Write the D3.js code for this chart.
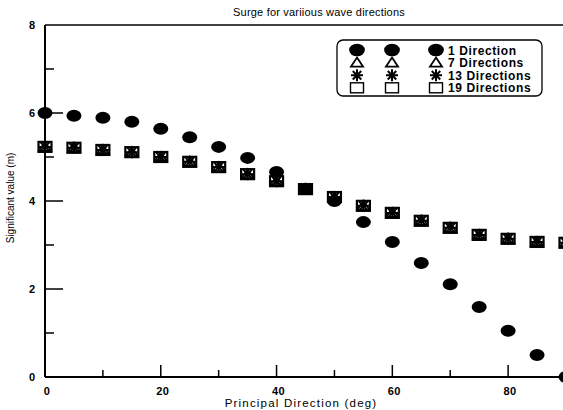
<!DOCTYPE html>
<html>
<head>
<meta charset="utf-8">
<script src="https://cdn.jsdelivr.net/npm/d3@7"></script>
<style>
  body { margin: 0; background: #fff; }
  text { font-family: "Liberation Sans", Arial, sans-serif; fill: #000; }
</style>
</head>
<body>
<div id="chart"></div>
<script>
// principal direction (deg)
let directions = [0, 5, 10, 15, 20, 25, 30, 35, 40, 45, 50, 55, 60, 65, 70, 75, 80, 85, 90]
// significant value (m) per series
let oneDir = [6.0, 5.94, 5.89, 5.80, 5.64, 5.45, 5.23, 4.98, 4.66, 4.28, 4.0, 3.52, 3.07, 2.59, 2.11, 1.59, 1.05, 0.50, 0.0]
let sevenDir = [5.23, 5.21, 5.16, 5.11, 5.0, 4.89, 4.77, 4.61, 4.45, 4.27, 4.09, 3.89, 3.73, 3.55, 3.39, 3.23, 3.14, 3.07, 3.05]
let thirteenDir = [5.23, 5.21, 5.16, 5.11, 5.0, 4.89, 4.77, 4.61, 4.45, 4.27, 4.09, 3.89, 3.73, 3.55, 3.39, 3.23, 3.14, 3.07, 3.05]
let nineteenDir = [5.23, 5.21, 5.16, 5.11, 5.0, 4.89, 4.77, 4.61, 4.45, 4.27, 4.09, 3.89, 3.73, 3.55, 3.39, 3.23, 3.14, 3.07, 3.05]
let legendLabels = ['1 Direction', '7 Directions', '13 Directions', '19 Directions']
let xTickLabels = [0, 20, 40, 60, 80]
let yTickLabels = [0, 2, 4, 6, 8]

let svg = d3.select('#chart').append('svg')
    .attr('width', 563)
    .attr('height', 410)

let x = d3.scaleLinear().domain([0, 90]).range([45, 566])
let y = d3.scaleLinear().domain([0, 8]).range([377, 25])

// frame: left axis, bottom axis, top line
svg.append('line')
    .attr('x1', x(0)).attr('x2', x(0)).attr('y1', y(0)).attr('y2', y(8))
    .style('stroke', 'black').style('stroke-width', 2)
svg.append('line')
    .attr('x1', x(0)).attr('x2', 563).attr('y1', y(0)).attr('y2', y(0))
    .style('stroke', 'black').style('stroke-width', 2)
svg.append('line')
    .attr('x1', x(0)).attr('x2', 563).attr('y1', y(8)).attr('y2', y(8))
    .style('stroke', 'black').style('stroke-width', 1.5)

// y ticks
let yTicks = d3.range(1, 8)
svg.selectAll('.ytick').data(yTicks).enter().append('line')
    .attr('x1', x(0))
    .attr('x2', d => x(0) + (d % 2 == 0 ? 18 : 9))
    .attr('y1', d => y(d)).attr('y2', d => y(d))
    .style('stroke', 'black').style('stroke-width', 1.5)
svg.selectAll('.ylab').data(yTickLabels).enter().append('text')
    .attr('x', 35)
    .attr('y', d => y(d) + 4)
    .style('text-anchor', 'end')
    .style('font-size', '11px')
    .style('font-weight', 'bold')
    .text(d => d)

// x ticks
let xTicks = d3.range(10, 90, 10)
svg.selectAll('.xtick').data(xTicks).enter().append('line')
    .attr('x1', d => x(d)).attr('x2', d => x(d))
    .attr('y1', y(0))
    .attr('y2', d => y(0) - (d % 20 == 0 ? 12 : 7))
    .style('stroke', 'black').style('stroke-width', 1.5)
svg.selectAll('.xlab').data(xTickLabels).enter().append('text')
    .attr('x', d => x(d) + 2)
    .attr('y', 395)
    .style('text-anchor', 'middle')
    .style('font-size', '11px')
    .style('font-weight', 'bold')
    .style('letter-spacing', '0.5px')
    .text(d => d)

// titles
svg.append('text')
    .attr('x', 319).attr('y', 16)
    .style('text-anchor', 'middle')
    .style('font-size', '11px')
    .style('letter-spacing', '0.2px')
    .text('Surge for  variious wave directions')
svg.append('text')
    .attr('x', 301).attr('y', 407)
    .style('text-anchor', 'middle')
    .style('font-size', '11.5px')
    .style('letter-spacing', '1.2px')
    .text('Principal Direction (deg)')
svg.append('text')
    .attr('transform', 'translate (14, 198) rotate(-90)')
    .style('text-anchor', 'middle')
    .style('font-size', '10px')
    .text('Significant value (m)')

// marker drawers
function drawCircle (g, cx, cy, k) {
    g.append('ellipse').attr('cx', cx).attr('cy', cy).attr('rx', 7.5 * k).attr('ry', 6 * k)
        .attr('fill', 'black')
}
function drawTriangle (g, cx, cy, k) {
    g.append('path')
        .attr('d', `M${cx},${cy - 5 * k} L${cx + 6 * k},${cy + 4 * k} L${cx - 6 * k},${cy + 4 * k} Z`)
        .attr('fill', 'none').style('stroke', 'black').style('stroke-width', 1.8)
}
function drawStar (g, cx, cy, k) {
    let r = 6 * k
    let p = ''
    for (let a of [0, 45, 90, 135]) {
        let dx = r * Math.cos(a * Math.PI / 180), dy = r * Math.sin(a * Math.PI / 180)
        p += `M${cx - dx},${cy - dy} L${cx + dx},${cy + dy} `
    }
    g.append('path').attr('d', p).style('stroke', 'black').style('stroke-width', 2)
}
function drawSquare (g, cx, cy, k, legend) {
    g.append('rect').attr('x', cx - 6.5 * k).attr('y', cy - 5 * k).attr('width', 13 * k).attr('height', 10 * k)
        .attr('fill', 'none').style('stroke', 'black').style('stroke-width', legend ? 1.4 : 2.2)
}

let series = [
    { values: oneDir, draw: drawCircle },
    { values: sevenDir, draw: drawTriangle },
    { values: thirteenDir, draw: drawStar },
    { values: nineteenDir, draw: drawSquare }
]

let pointsGroup = svg.append('g').attr('id', 'points')
series.forEach(s => {
    directions.forEach((d, i) => {
        s.draw(pointsGroup, x(d), y(s.values[i]), 1, false)
    })
})

// legend
let legendGroup = svg.append('g').attr('id', 'legend')
legendGroup.append('rect')
    .attr('x', 337).attr('y', 40).attr('width', 205).attr('height', 56)
    .attr('rx', 6).attr('ry', 6)
    .attr('fill', 'white')
    .style('stroke', 'black').style('stroke-width', 1.3)
let legendCols = [357, 392, 436]
series.forEach((s, i) => {
    let ly = 50 + i * 12.6
    legendCols.forEach(cx => s.draw(legendGroup, cx, ly, i == 0 ? 1.05 : 1.0, true))
    legendGroup.append('text')
        .attr('x', 448).attr('y', ly + 4.5)
        .style('font-size', '12px')
        .style('font-weight', 'bold')
        .style('letter-spacing', '0.6px')
        .text(legendLabels[i])
})
</script>
</body>
</html>
